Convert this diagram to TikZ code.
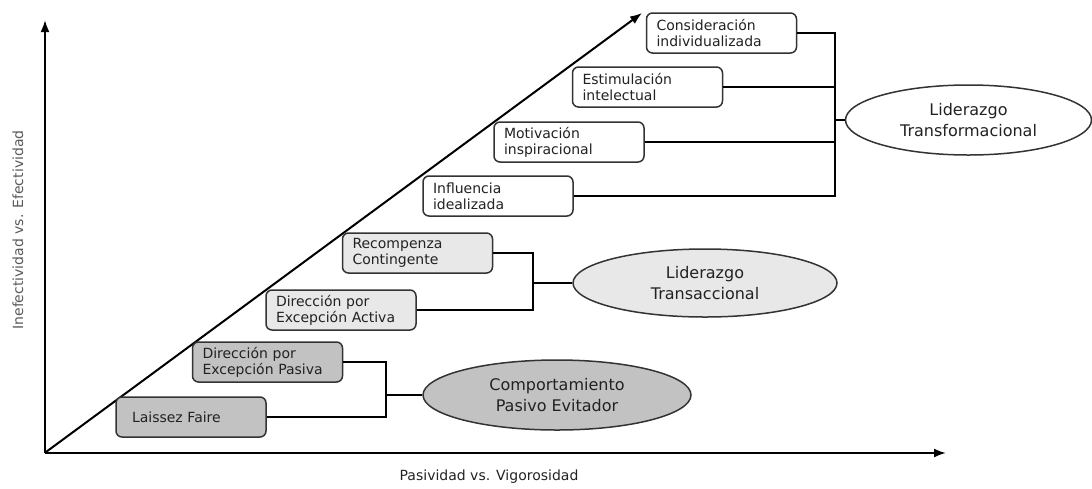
\documentclass[tikz,border=0pt]{standalone}
\usepackage{fontspec}
\setmainfont{DejaVu Sans}
\usetikzlibrary{arrows.meta,shapes.geometric}
\definecolor{txt}{HTML}{222222}
\definecolor{edge}{HTML}{333333}
\definecolor{pasfill}{HTML}{C2C2C2}
\definecolor{trafill}{HTML}{E8E8E8}
\definecolor{axlab}{HTML}{5A5A5A}
\tikzset{
  stepbox/.style={draw=edge, line width=0.75pt, rounded corners=3pt,
    minimum width=75pt, minimum height=20pt, inner xsep=5pt, inner ysep=0pt,
    text width=65pt, align=left, font=\fontsize{7}{8}\selectfont, text=txt},
  pasbox/.style={stepbox, fill=pasfill},
  trabox/.style={stepbox, fill=trafill},
  trfbox/.style={stepbox, fill=white},
  groupell/.style={draw=edge, line width=0.75pt, ellipse, inner sep=0pt,
    align=center, font=\fontsize{8}{10.5}\selectfont, text=txt},
  conn/.style={draw=black, line width=0.75pt},
  axis/.style={draw=black, line width=1pt, -{Latex[length=6pt,width=4.5pt]}},
}
\begin{document}
\begin{tikzpicture}[x=0.5pt,y=-0.5pt]
\useasboundingbox (0,0) rectangle (1092,488);
% axes
\coordinate (O) at (45,453);
\coordinate (Ytop) at (45,20);
\coordinate (Xend) at (946,453);
\coordinate (Dstart) at (46,452);
\coordinate (Dtip) at (642,13);
\draw[axis] (O) -- (Ytop);
\draw[axis] (O) -- (Xend);
\draw[axis] (Dstart) -- (Dtip);
\node[rotate=90, font=\fontsize{7}{8}\selectfont, text=axlab] (ylab) at (18,230) {Inefectividad vs. Efectividad};
\node[font=\fontsize{7}{8}\selectfont, text=txt] (xlab) at (489,477) {Pasividad vs. Vigorosidad};
% pasivo evitador
\node[pasbox] (LF) at (191,417) {\hspace*{3pt}Laissez Faire};
\node[pasbox] (DEP) at (267.5,362) {Dirección por\\\mbox{Excepción Pasiva}};
\node[groupell, fill=pasfill, minimum width=134pt, minimum height=35pt] (PE) at (557,395) {Comportamiento\\Pasivo Evitador};
\coordinate (jP) at (386,395);
\draw[conn] (DEP.east) -| (jP) |- (LF.east);
\draw[conn] (jP) -- (PE.west);
% transaccional
\node[trabox] (DEA) at (341,310) {Dirección por\\\mbox{Excepción Activa}};
\node[trabox] (RC) at (417.5,253) {Recompenza\\Contingente};
\node[groupell, fill=trafill, minimum width=132pt, minimum height=34pt] (LT) at (705,283) {Liderazgo\\Transaccional};
\coordinate (jT) at (533,283);
\draw[conn] (RC.east) -| (jT) |- (DEA.east);
\draw[conn] (jT) -- (LT.west);
% transformacional
\node[trfbox] (II) at (498,196) {Influencia\\idealizada};
\node[trfbox] (MI) at (569,142) {Motivación\\inspiracional};
\node[trfbox] (EI) at (647.5,87) {Estimulación\\intelectual};
\node[trfbox] (CI) at (721.5,33) {Consideración\\individualizada};
\node[groupell, fill=white, minimum width=123pt, minimum height=35pt] (LTF) at (968.5,120) {Liderazgo\\Transformacional};
\coordinate (jF) at (835,120);
\draw[conn] (CI.east) -| (jF) |- (II.east);
\draw[conn] (EI.east) -- (EI.east -| jF);
\draw[conn] (MI.east) -- (MI.east -| jF);
\draw[conn] (jF) -- (LTF.west);
\end{tikzpicture}
\end{document}
